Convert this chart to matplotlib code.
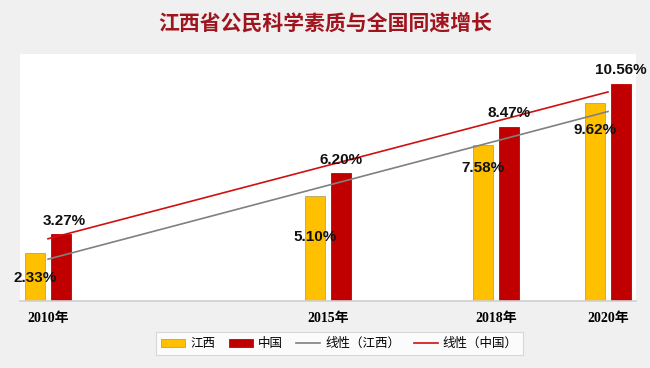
import numpy as np
import matplotlib.pyplot as plt

plt.rcParams['font.family'] = ['Liberation Sans', 'Noto Sans CJK SC', 'DejaVu Sans']

# data
years = [2010, 2015, 2018, 2020]
year_labels = ['2010年', '2015年', '2018年', '2020年']
jiangxi = [2.33, 5.10, 7.58, 9.62]
china = [3.27, 6.20, 8.47, 10.56]

title = '江西省公民科学素质与全国同速增长'

yellow = '#FFC000'
red = '#C00000'
bg = '#F0F0F0'

fig = plt.figure(figsize=(6.5, 3.68), dpi=100, facecolor=bg)
ax = fig.add_axes([20 / 650, 1 - 301 / 368, 616 / 650, 247 / 368])
ax.set_facecolor('white')

x = np.array(years, dtype=float)
w = 0.36
off = 0.232
b1 = ax.bar(x - off, jiangxi, w, color=yellow, edgecolor='#A9A86A', linewidth=0.6, zorder=2)
b2 = ax.bar(x + off, china, w, color=red, edgecolor=red, linewidth=0.6, zorder=2)

# linear trend lines
kj, bj = np.polyfit(x, jiangxi, 1)
kc, bc = np.polyfit(x, china, 1)
xs = np.array([years[0], years[-1]], dtype=float)
l1, = ax.plot(xs, kj * xs + bj, color='#808080', linewidth=1.2, zorder=3)
l2, = ax.plot(xs, kc * xs + bc, color='#D01010', linewidth=1.2, zorder=3)

# value labels
jx_drop = [1.2, 2.0, 1.1, 1.3]
for xi, v, d in zip(x, jiangxi, jx_drop):
    ax.text(xi - off, v - d, f'{v:.2f}%', ha='center', va='center',
            fontsize=11, fontweight='bold', color='#111111', zorder=4)
for i, (xi, v) in enumerate(zip(x, china)):
    dx = 0.05 if i == 0 else 0.0
    ax.text(xi + off + dx, v + 0.3, f'{v:.2f}%', ha='center', va='bottom',
            fontsize=11, fontweight='bold', color='#111111', zorder=4)

ax.set_xlim(2009.5, 2020.5)
ax.set_ylim(0, 12)
ax.set_yticks([])
ax.set_xticks(years)
ax.set_xticklabels(year_labels, fontsize=10, fontweight='bold',
                   family=['Liberation Serif', 'Noto Sans CJK SC'])
ax.tick_params(axis='x', length=0, pad=8)
for s in ['top', 'right', 'left']:
    ax.spines[s].set_visible(False)
ax.spines['bottom'].set_color('#D0D0D0')
ax.spines['bottom'].set_linewidth(1.2)

fig.text(0.5, 1 - 23 / 368, title, ha='center', va='center', fontsize=15,
         fontweight='bold', color='#A0141E', family=['Noto Sans CJK SC'])

leg = fig.legend([b1, b2, l1, l2], ['江西', '中国', '线性（江西）', '线性（中国）'],
                 loc='center', bbox_to_anchor=(339.5 / 650, 1 - 343.5 / 368),
                 ncol=4, frameon=True, fancybox=False,
                 prop={'family': ['Noto Sans CJK SC'], 'size': 9},
                 handlelength=1.9, handleheight=0.6, columnspacing=1.1,
                 handletextpad=0.4, borderpad=0.4)
leg.get_frame().set_edgecolor('#D0D0D0')
leg.get_frame().set_linewidth(0.8)

fig.savefig('out.png', dpi=100, facecolor=bg)
